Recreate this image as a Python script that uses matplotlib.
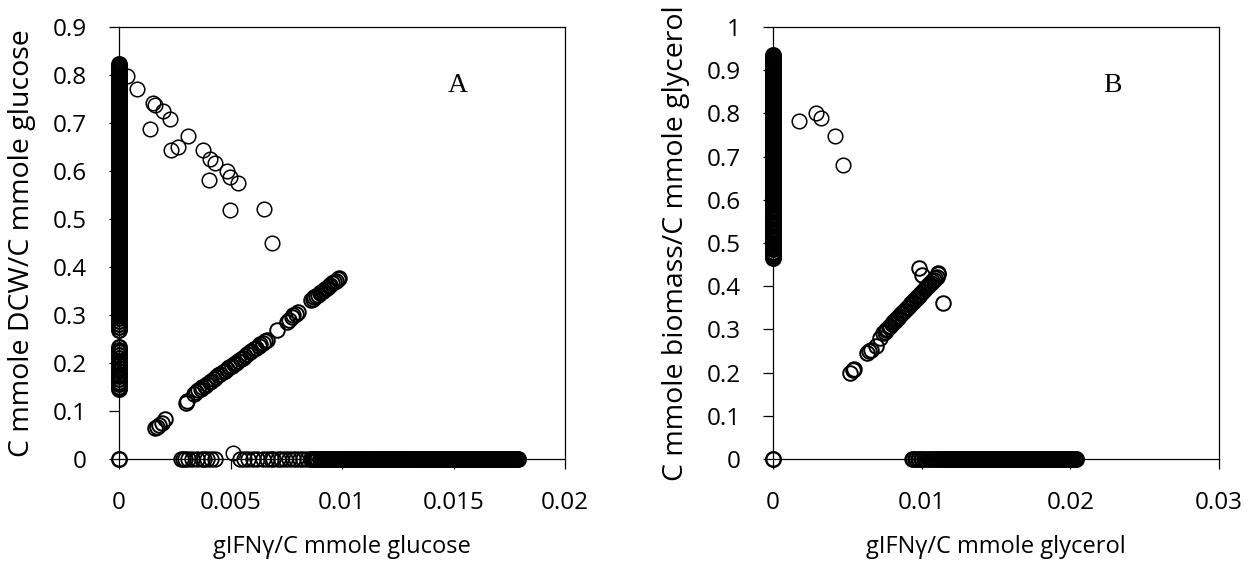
import matplotlib
matplotlib.use("Agg")
import matplotlib.pyplot as plt
import numpy as np

plt.rcParams['font.family'] = ['Open Sans', 'DejaVu Sans']

# ---------------- Panel A (glucose) ----------------
# points sitting on x = 0 (very dense from 0.30 up)
a_col_y = [0.0, 0.145, 0.150, 0.156, 0.161, 0.166, 0.172, 0.178, 0.183, 0.189, 0.195,
           0.200, 0.205, 0.211, 0.216, 0.222, 0.228, 0.233, 0.268, 0.274, 0.281,
           0.288, 0.294,
           0.300, 0.303, 0.307, 0.310, 0.314, 0.317, 0.321, 0.324, 0.328, 0.331,
           0.335, 0.338, 0.342, 0.345, 0.349, 0.352, 0.356, 0.359, 0.363, 0.366,
           0.370, 0.373, 0.377, 0.380, 0.384, 0.387, 0.391, 0.394, 0.398, 0.401,
           0.405, 0.408, 0.412, 0.415, 0.419, 0.422, 0.426, 0.429, 0.433, 0.436,
           0.440, 0.443, 0.447, 0.450, 0.454, 0.457, 0.461, 0.464, 0.468, 0.471,
           0.475, 0.478, 0.482, 0.485, 0.489, 0.492, 0.496, 0.499, 0.503, 0.506,
           0.510, 0.513, 0.517, 0.520, 0.524, 0.527, 0.531, 0.534, 0.538, 0.541,
           0.545, 0.548, 0.552, 0.555, 0.559, 0.562, 0.566, 0.569, 0.573, 0.576,
           0.580, 0.583, 0.587, 0.590, 0.594, 0.597, 0.601, 0.604, 0.608, 0.611,
           0.615, 0.618, 0.622, 0.625, 0.629, 0.632, 0.636, 0.639, 0.643, 0.646,
           0.650, 0.653, 0.657, 0.660, 0.664, 0.667, 0.671, 0.674, 0.678, 0.681,
           0.685, 0.688, 0.692, 0.695, 0.699, 0.702, 0.706, 0.709, 0.713, 0.716,
           0.720, 0.723, 0.727, 0.730, 0.734, 0.737, 0.741, 0.744, 0.748, 0.751,
           0.755, 0.758, 0.762, 0.765, 0.769, 0.772, 0.776, 0.779, 0.783, 0.786,
           0.790, 0.793, 0.797, 0.800, 0.804, 0.807, 0.811, 0.814, 0.818, 0.822]

# descending group near the top
a_top_x = [0.00035, 0.00082, 0.00154, 0.00161, 0.00199, 0.00229, 0.00139, 0.00311,
           0.00232, 0.00266, 0.00378, 0.00408, 0.00430, 0.00483, 0.00498, 0.00535,
           0.00404, 0.00498, 0.00652, 0.00685]
a_top_y = [0.798, 0.770, 0.742, 0.737, 0.724, 0.708, 0.687, 0.673,
           0.644, 0.651, 0.644, 0.626, 0.616, 0.599, 0.588, 0.574,
           0.581, 0.519, 0.521, 0.451]

# rising diagonal group
a_diag_x = [0.00161, 0.00170, 0.00178, 0.00191, 0.00206, 0.00300, 0.00306,
            0.00335, 0.00345, 0.00353, 0.00366, 0.00374, 0.00386, 0.00394, 0.00406,
            0.00414, 0.00426, 0.00433, 0.00446, 0.00455, 0.00466, 0.00474, 0.00486,
            0.00494, 0.00506, 0.00514, 0.00526, 0.00533, 0.00546, 0.00554, 0.00566,
            0.00574, 0.00586, 0.00594, 0.00606, 0.00614, 0.00626, 0.00633, 0.00646,
            0.00655, 0.00662, 0.00707, 0.00752, 0.00762, 0.00774, 0.00782, 0.00795,
            0.00804, 0.00860, 0.00868, 0.00876, 0.00884, 0.00892, 0.00900, 0.00908,
            0.00916, 0.00924, 0.00932, 0.00940, 0.00948, 0.00956, 0.00964, 0.00972,
            0.00980, 0.00988]
a_diag_y = [0.064, 0.066, 0.070, 0.074, 0.083, 0.117, 0.121,
            0.136, 0.139, 0.143, 0.146, 0.150, 0.153, 0.157, 0.160,
            0.163, 0.167, 0.170, 0.174, 0.177, 0.181, 0.184, 0.187,
            0.191, 0.194, 0.198, 0.201, 0.205, 0.208, 0.211, 0.215,
            0.218, 0.222, 0.225, 0.229, 0.232, 0.235, 0.239, 0.242,
            0.246, 0.248, 0.269, 0.286, 0.290, 0.295, 0.300, 0.303,
            0.307, 0.331, 0.334, 0.337, 0.339, 0.342, 0.345, 0.348,
            0.351, 0.354, 0.357, 0.360, 0.363, 0.366, 0.368, 0.371,
            0.374, 0.377]

# points sitting on y = 0: a looser run, then a dense run
a_base_sparse_x = [0.00278, 0.00288, 0.00295, 0.00310, 0.00328, 0.00348, 0.00370,
                   0.00382, 0.00393, 0.00412, 0.00430, 0.00543, 0.00562, 0.00580,
                   0.00602, 0.00620, 0.00647, 0.00665, 0.00680, 0.00692, 0.00712,
                   0.00728, 0.00744, 0.00762, 0.00782, 0.00795, 0.00810, 0.00827,
                   0.00842]
a_base_x = [0.00860, 0.00870, 0.00880, 0.00890, 0.00900, 0.00910, 0.00920, 0.00930,
            0.00940, 0.00950, 0.00960, 0.00970, 0.00980, 0.00990, 0.01000, 0.01010,
            0.01020, 0.01030, 0.01040, 0.01050, 0.01060, 0.01070, 0.01080, 0.01090,
            0.01100, 0.01110, 0.01120, 0.01130, 0.01140, 0.01150, 0.01160, 0.01170,
            0.01180, 0.01190, 0.01200, 0.01210, 0.01220, 0.01230, 0.01240, 0.01250,
            0.01260, 0.01270, 0.01280, 0.01290, 0.01300,
            0.01310, 0.01318, 0.01326, 0.01334, 0.01342, 0.01350, 0.01358, 0.01366,
            0.01374, 0.01382, 0.01390, 0.01398, 0.01406, 0.01414, 0.01422, 0.01430,
            0.01438, 0.01446, 0.01454, 0.01462, 0.01470, 0.01478, 0.01486, 0.01494,
            0.01502, 0.01510, 0.01518, 0.01526, 0.01534, 0.01542, 0.01550, 0.01558,
            0.01566, 0.01574, 0.01582, 0.01590, 0.01598, 0.01606, 0.01614, 0.01622,
            0.01630, 0.01638, 0.01646, 0.01654, 0.01662, 0.01670, 0.01678, 0.01686,
            0.01694, 0.01702, 0.01710, 0.01718, 0.01726, 0.01734, 0.01742, 0.01750,
            0.01758, 0.01766, 0.01774, 0.01782, 0.01790]
# the one point just above the baseline
a_bump_x = [0.00513]
a_bump_y = [0.012]

# ---------------- Panel B (glycerol) ----------------
b_col_y = [0.0, 0.465, 0.470, 0.475, 0.480, 0.486, 0.491, 0.496, 0.501, 0.507,
           0.512, 0.517, 0.523, 0.528, 0.533, 0.539, 0.544, 0.549, 0.555, 0.560,
           0.565, 0.571, 0.576, 0.581, 0.587, 0.592, 0.597, 0.603, 0.608, 0.613,
           0.617,
           0.620, 0.623, 0.627, 0.630, 0.634, 0.637, 0.641, 0.644, 0.648, 0.651,
           0.655, 0.658, 0.662, 0.665, 0.669, 0.672, 0.676, 0.679, 0.683, 0.686,
           0.690, 0.693, 0.697, 0.700, 0.704, 0.707, 0.711, 0.714, 0.718, 0.721,
           0.725, 0.728, 0.732, 0.735, 0.739, 0.742, 0.746, 0.749, 0.753, 0.756,
           0.760, 0.763, 0.767, 0.770, 0.774, 0.777, 0.781, 0.784, 0.788, 0.791,
           0.795, 0.798, 0.802, 0.805, 0.809, 0.812, 0.816, 0.819, 0.822, 0.825,
           0.829, 0.832, 0.836, 0.839, 0.843, 0.846, 0.850, 0.853, 0.857, 0.860,
           0.864, 0.867, 0.871, 0.874, 0.878, 0.881, 0.885, 0.888, 0.892, 0.895,
           0.899, 0.902, 0.906, 0.909, 0.913, 0.916, 0.920, 0.923, 0.927, 0.930,
           0.935]

b_top_x = [0.00176, 0.00289, 0.00324, 0.00416, 0.00470]
b_top_y = [0.783, 0.802, 0.789, 0.748, 0.680]

b_diag_x = [0.00518, 0.00535, 0.00545, 0.00630, 0.00645, 0.00662, 0.00690, 0.00720,
            0.00740, 0.00750, 0.00760, 0.00770, 0.00780, 0.00790, 0.00800, 0.00810,
            0.00820, 0.00830, 0.00840, 0.00850, 0.00860, 0.00870, 0.00880, 0.00890,
            0.00900, 0.00910, 0.00920, 0.00930, 0.00940, 0.00950, 0.00960, 0.00970,
            0.00980, 0.00990, 0.01000, 0.01010, 0.01020, 0.01030, 0.01040, 0.01050,
            0.01060, 0.01070, 0.01080, 0.01090, 0.01100,
            0.00982, 0.01000, 0.01108, 0.01112, 0.01146]
b_diag_y = [0.200, 0.205, 0.209, 0.245, 0.249, 0.252, 0.262, 0.279,
            0.291, 0.295, 0.298, 0.302, 0.306, 0.309, 0.313, 0.317,
            0.320, 0.324, 0.327, 0.331, 0.335, 0.338, 0.342, 0.346,
            0.349, 0.353, 0.357, 0.360, 0.364, 0.367, 0.371, 0.375,
            0.378, 0.382, 0.386, 0.389, 0.393, 0.397, 0.400, 0.404,
            0.407, 0.411, 0.415, 0.418, 0.422,
            0.441, 0.426, 0.428, 0.431, 0.360]

b_base_sparse_x = [0.00935, 0.00945, 0.00955, 0.00965, 0.00975, 0.00985, 0.00995,
                   0.01005, 0.01015, 0.01025, 0.01040, 0.01050, 0.01060, 0.01070,
                   0.01080, 0.01090, 0.01100, 0.01110, 0.01120, 0.01130, 0.01140]
b_base_x = [0.01150, 0.01160, 0.01170, 0.01180, 0.01190, 0.01200, 0.01210, 0.01220,
            0.01230, 0.01240, 0.01250, 0.01260, 0.01270, 0.01280, 0.01290, 0.01300,
            0.01310, 0.01320, 0.01330, 0.01340, 0.01350, 0.01360, 0.01370, 0.01380,
            0.01390, 0.01400, 0.01410, 0.01420, 0.01430, 0.01440, 0.01450, 0.01460,
            0.01470, 0.01480, 0.01490, 0.01500, 0.01510, 0.01520, 0.01530, 0.01540,
            0.01550, 0.01560, 0.01570, 0.01580, 0.01590, 0.01600, 0.01610, 0.01620,
            0.01630, 0.01640, 0.01650, 0.01660, 0.01670, 0.01680, 0.01690, 0.01700,
            0.01710, 0.01720, 0.01730, 0.01740, 0.01750, 0.01760, 0.01770, 0.01780,
            0.01790, 0.01800, 0.01810, 0.01820, 0.01830, 0.01840, 0.01850, 0.01860,
            0.01870, 0.01880, 0.01890, 0.01900, 0.01910, 0.01920, 0.01930, 0.01940,
            0.01950, 0.01960, 0.01970, 0.01980, 0.01990, 0.02000, 0.02010, 0.02020,
            0.02030, 0.02040]

a_xticks = [0, 0.005, 0.01, 0.015, 0.02]
a_xlabels = ['0', '0.005', '0.01', '0.015', '0.02']
a_yticks = [0, 0.1, 0.2, 0.3, 0.4, 0.5, 0.6, 0.7, 0.8, 0.9]
a_ylabels = ['0', '0.1', '0.2', '0.3', '0.4', '0.5', '0.6', '0.7', '0.8', '0.9']
b_xticks = [0, 0.01, 0.02, 0.03]
b_xlabels = ['0', '0.01', '0.02', '0.03']
b_yticks = [0, 0.1, 0.2, 0.3, 0.4, 0.5, 0.6, 0.7, 0.8, 0.9, 1.0]
b_ylabels = ['0', '0.1', '0.2', '0.3', '0.4', '0.5', '0.6', '0.7', '0.8', '0.9', '1']

fig = plt.figure(figsize=(12.49, 5.65), dpi=100)
axA = fig.add_axes([119 / 1249, 106 / 565, 446 / 1249, 432 / 565])
axB = fig.add_axes([773 / 1249, 106 / 565, 446 / 1249, 432 / 565])


def circles(ax, xs, ys, ew=1.1):
    ln, = ax.plot(xs, ys, linestyle='none', marker='o', markersize=10.5,
                  markerfacecolor='none', markeredgecolor='black',
                  markeredgewidth=ew, clip_on=False)
    ln.set_snap(False)


def style(ax, xlim, ylim, xt, xl, yt, yl, xlabel, ylabel, letter):
    ax.set_xlim(xlim)
    ax.set_ylim(ylim)
    ax.set_xticks(xt)
    ax.set_xticklabels(xl)
    ax.set_yticks(yt)
    ax.set_yticklabels(yl)
    ax.tick_params(direction='out', length=7.2, width=0.9, pad=16, labelsize=17.5)
    for s in ax.spines.values():
        s.set_linewidth(0.9)
    ax.set_xlabel(xlabel, fontsize=17, va='center')
    ax.set_ylabel(ylabel, fontsize=20.5, va='center', ha='center')
    ax.xaxis.set_label_coords(0.5, -0.204)
    ax.yaxis.set_label_coords(-0.218, 0.5)
    ax.text(0.76, 0.865, letter, transform=ax.transAxes, fontsize=20,
            family='Liberation Serif', ha='center', va='center')


# dense bands are drawn with a heavier outline so they close up like the original
circles(axA, np.zeros(len(a_col_y)), a_col_y, ew=1.7)
circles(axA, a_top_x, a_top_y)
circles(axA, a_diag_x, a_diag_y, ew=1.4)
circles(axA, a_base_sparse_x, np.zeros(len(a_base_sparse_x)), ew=1.3)
circles(axA, a_base_x, np.zeros(len(a_base_x)), ew=1.7)
circles(axA, a_bump_x, a_bump_y)
style(axA, (0, 0.02), (0, 0.9), a_xticks, a_xlabels, a_yticks, a_ylabels,
      'gIFNγ/C mmole glucose', 'C mmole DCW/C mmole glucose', 'A')

circles(axB, np.zeros(len(b_col_y)), b_col_y, ew=1.7)
circles(axB, b_top_x, b_top_y)
circles(axB, b_diag_x, b_diag_y, ew=1.4)
circles(axB, b_base_sparse_x, np.zeros(len(b_base_sparse_x)), ew=1.3)
circles(axB, b_base_x, np.zeros(len(b_base_x)), ew=1.7)
style(axB, (0, 0.03), (0, 1.0), b_xticks, b_xlabels, b_yticks, b_ylabels,
      'gIFNγ/C mmole glycerol', 'C mmole biomass/C mmole glycerol', 'B')

fig.savefig('out.png', dpi=100)
